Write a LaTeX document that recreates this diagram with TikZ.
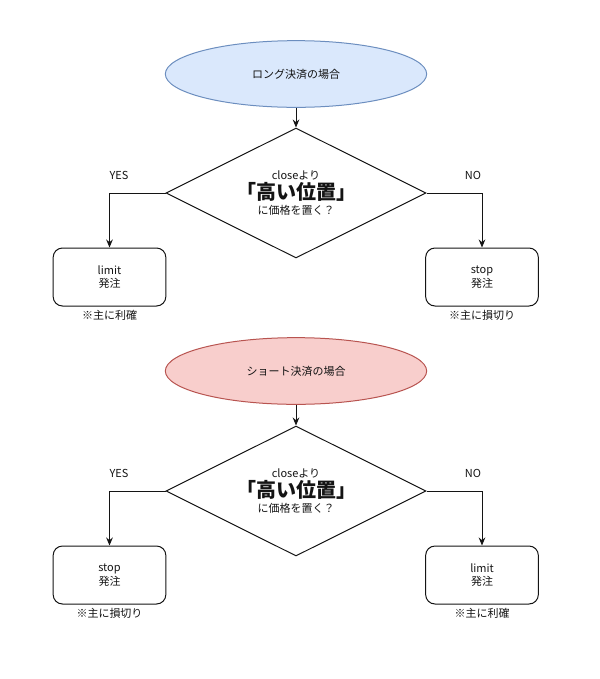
\documentclass[tikz,border=0pt]{standalone}
\usepackage{fontspec}
\setmainfont{Noto Sans CJK JP}
\usetikzlibrary{arrows.meta,positioning,shapes.geometric}
\definecolor{longfill}{HTML}{DAE8FC}
\definecolor{longline}{HTML}{6C8EBF}
\definecolor{shortfill}{HTML}{F8CECC}
\definecolor{shortline}{HTML}{B85450}
\definecolor{ink}{RGB}{20,20,20}
\newcommand{\basefont}{\fontsize{8.25}{10}\selectfont}
\newcommand{\bigfont}{\fontsize{15}{16}\selectfont\bfseries}
\tikzset{
  >={Stealth[length=6pt,width=5pt]},
  every node/.style={font=\basefont,text=ink},
  caseoval/.style={ellipse,draw=#1line,fill=#1fill,line width=0.75pt,
    minimum width=196pt,minimum height=50pt,inner sep=0pt},
  question/.style={diamond,aspect=2,draw=ink,line width=0.75pt,minimum width=195pt,
    minimum height=97.5pt,inner sep=0pt,align=center},
  order/.style={rectangle,rounded corners=7pt,draw=ink,line width=0.75pt,
    minimum width=84.5pt,minimum height=43.5pt,align=center},
  note/.style={inner sep=0pt},
  answer/.style={inner sep=0pt},
  flow/.style={->,line width=0.75pt,draw=ink},
}
\begin{document}
\begin{tikzpicture}[x=0.75pt,y=-0.75pt]
  \useasboundingbox (0,0) rectangle (600,679);

  % long case
  \node[caseoval=long] (long) at (296,74) {ロング決済の場合};
  \node[question] (qlong) at (296,193)
    {closeより\\[1pt]{\bigfont 「高い位置」}\\[1pt]に価格を置く？};
  \node[order] (limitlong) at (109.5,277) {limit\\発注};
  \node[order] (stoplong) at (482,277) {stop\\発注};
  \node[note,below=2.5pt of limitlong] (notelimitlong) {※主に利確};
  \node[note,below=2.5pt of stoplong] (notestoplong) {※主に損切り};
  \node[answer] (yeslong) at (119,175) {YES};
  \node[answer] (nolong) at (473,175) {NO};
  \draw[flow] (long) -- (qlong);
  \draw[flow] (qlong.west) -| (limitlong.north);
  \draw[flow] (qlong.east) -| (stoplong.north);

  % short case
  \node[caseoval=short] (short) at (296,371) {ショート決済の場合};
  \node[question] (qshort) at (296,491)
    {closeより\\[1pt]{\bigfont 「高い位置」}\\[1pt]に価格を置く？};
  \node[order] (stopshort) at (109.5,575) {stop\\発注};
  \node[order] (limitshort) at (482,575) {limit\\発注};
  \node[note,below=2.5pt of stopshort] (notestopshort) {※主に損切り};
  \node[note,below=2.5pt of limitshort] (notelimitshort) {※主に利確};
  \node[answer] (yesshort) at (119,473) {YES};
  \node[answer] (noshort) at (473,473) {NO};
  \draw[flow] (short) -- (qshort);
  \draw[flow] (qshort.west) -| (stopshort.north);
  \draw[flow] (qshort.east) -| (limitshort.north);
\end{tikzpicture}
\end{document}
